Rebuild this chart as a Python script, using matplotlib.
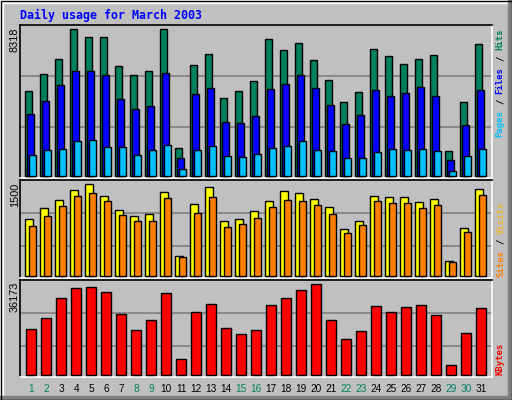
import matplotlib
matplotlib.use("Agg")
import matplotlib.pyplot as plt
import numpy as np
from matplotlib.patches import Rectangle

# daily values (March 2003)
days = list(range(1, 32))
weekend = [1, 2, 8, 9, 15, 16, 22, 23, 29, 30]

hits = [4802, 5766, 6617, 8318, 7865, 7865, 6220, 5709, 5936, 8318, 1569,
        6276, 6900, 4405, 4802, 5369, 7751, 7127, 7524, 6560, 5426, 4178,
        4745, 7184, 6787, 6333, 6617, 6843, 1399, 4178, 7467]
files = [3497, 4235, 5142, 5936, 5936, 5709, 4348, 3781, 3951, 5823, 1002,
         4632, 4972, 3044, 2987, 3384, 4915, 5199, 5709, 4972, 4008, 2930,
         3441, 4858, 4518, 4688, 5029, 4518, 889, 2873, 4858]
pages = [1172, 1456, 1512, 1966, 2023, 1626, 1626, 1172, 1456, 1739, 378,
         1456, 1682, 1115, 1059, 1229, 1569, 1682, 1966, 1456, 1399, 1002,
         1002, 1342, 1512, 1456, 1512, 1399, 265, 1115, 1512]
visits = [929, 1109, 1239, 1402, 1500, 1304, 1076, 978, 1011, 1370, 326,
          1174, 1451, 897, 929, 1060, 1223, 1386, 1353, 1255, 1125, 766,
          897, 1304, 1288, 1288, 1207, 1255, 245, 783, 1418]
sites = [815, 978, 1141, 1304, 1353, 1223, 995, 897, 897, 1272, 310,
         1027, 1288, 799, 848, 946, 1125, 1239, 1223, 1158, 1011, 701,
         832, 1223, 1190, 1190, 1109, 1158, 228, 717, 1321]
kbytes = [18286, 22658, 30609, 34583, 34981, 32993, 24248, 17888, 21863,
          32596, 6360, 25043, 28223, 18683, 16298, 17888, 27826, 30609,
          33788, 36173, 21863, 14310, 17490, 27428, 25043, 27031, 27826,
          23851, 3975, 16696, 26633]

c_hits, c_files, c_pages = "#00805C", "#0000FF", "#00C0FF"
c_visits, c_sites, c_kb = "#FFFF00", "#FF8000", "#FF0000"
bgc = "#C0C0C0"

W, H = 512, 400
fig = plt.figure(figsize=(W / 100, H / 100), dpi=100, facecolor=bgc)

# outer 3d frame
bg = fig.add_axes([0, 0, 1, 1])
bg.set_xlim(0, W)
bg.set_ylim(H, 0)
bg.axis("off")
bg.add_patch(Rectangle((0, 0), W, 3, color="white"))
bg.add_patch(Rectangle((0, 0), 3, H, color="white"))
bg.add_patch(Rectangle((W - 4, 0), 4, H, color="#808080"))
bg.add_patch(Rectangle((0, H - 4), W, 4, color="#808080"))
bg.add_patch(Rectangle((0.5, 0.5), W - 1, H - 1, fill=False, ec="black", lw=1))


def panel(top, base, vmax, peak, grid):
    ax = fig.add_axes([20 / W, 1 - (base + 2) / H, 472 / W, (base + 2 - top) / H])
    u = vmax / (base - peak)
    ax.set_xlim(20, 492)
    ax.set_ylim(-2 * u, (base - top) * u)
    ax.set_facecolor(bgc)
    for g in grid:
        ax.axhline((base - g) * u, color="#808080", lw=1.2, zorder=1)
    for s in ["top", "left"]:
        ax.spines[s].set_color("black")
    for s in ["bottom", "right"]:
        ax.spines[s].set_color("white")
    for s in ax.spines.values():
        s.set_linewidth(1.2)
    ax.set_xticks([])
    ax.set_yticks([])
    return ax


x = 25 + 15 * np.arange(len(days))
kw = dict(align="edge", edgecolor="black", lw=1, zorder=3)

ax1 = panel(25, 176, 8318, 29.3, [76.3, 127.3])
ax1.bar(x, hits, width=7, color=c_hits, **kw)
ax1.bar(x + 2, files, width=7, color=c_files, **kw)
ax1.bar(x + 4, pages, width=7, color=c_pages, **kw)

ax2 = panel(180, 276.3, 1500, 184.3, [213.3, 246.3])
ax2.bar(x, visits, width=8, color=c_visits, **kw)
ax2.bar(x + 4, sites, width=7, color=c_sites, **kw)

ax3 = panel(280, 375.3, 36173, 284.3, [313.3, 346.3])
ax3.bar(x + 1, kbytes, width=10, color=c_kb, **kw)
ax3.set_xticks(x + 6.3, [str(d) for d in days])
ax3.tick_params(axis="x", length=0, pad=5, labelsize=7.3)
for lab, d in zip(ax3.get_xticklabels(), days):
    lab.set_family("Liberation Sans")
    lab.set_color(c_hits if d in weekend else "black")

# max values on the left
for val, ytop in [("8318", 28), ("1500", 183), ("36173", 282)]:
    fig.text(15 / W, 1 - ytop / H, val, rotation=90, ha="center", va="top",
             fontsize=7.8, family="Liberation Sans")

fig.text(20 / W, 1 - 15 / H, "Daily usage for March 2003", color="#0000FF",
         fontweight="bold", family="DejaVu Sans Mono", fontsize=8.4,
         ha="left", va="center")


def vlabel(xp, y0, parts, size=6.5):
    adv = 0.602 * size * 100 / 72
    for txt, off, col in parts:
        fig.text(xp / W, 1 - (y0 - off * adv) / H, txt, rotation=90,
                 rotation_mode="anchor", ha="left", va="center", color=col,
                 family="DejaVu Sans Mono", fontsize=size, fontweight="bold")


vlabel(500, 137, [("Pages", 0, c_pages), ("/", 6, "black"),
                  ("Files", 8, c_files), ("/", 14, "black"),
                  ("Hits", 16, c_hits)])
vlabel(501, 277, [("Sites", 0, c_sites), ("/", 6, "black"),
                  ("Visits", 8, "#E8B830")])
vlabel(500, 375, [("KBytes", 0, c_kb)])

fig.savefig("out.png", dpi=100, facecolor=bgc)
